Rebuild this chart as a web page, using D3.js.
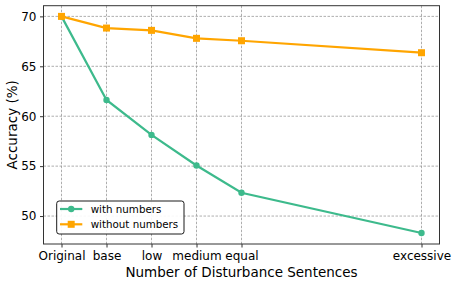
<!DOCTYPE html>
<html><head><meta charset="utf-8">
<script src="https://cdn.jsdelivr.net/npm/d3@7"></script>
<style>body{margin:0;background:#fff}svg{display:block}text{font-family:"DejaVu Sans",sans-serif;fill:#000}</style>
</head><body><svg id="c" width="457" height="284"></svg>
<script>
const categories = ["Original","base","low","medium","equal","excessive"];
const positions = [0,1,2,3,4,8];
const withNumbers = [70.0,61.63,58.13,55.06,52.33,48.3];
const withoutNumbers = [70.0,68.83,68.6,67.8,67.56,66.36];
const yTicks = [50,55,60,65,70];
const seriesNames = ["with numbers","without numbers"];
const colors = ["#3dba8c","#ffa500"];

const svg = d3.select("#c");
const L=43.5, R=439.5, T=5.7, B=244;
const x = d3.scaleLinear().domain([-0.4,8.4]).range([L,R]);
const y = d3.scaleLinear().domain([47.2,71.07]).range([B,T]);

const grid = svg.append("g").attr("stroke","#999").attr("stroke-width",0.8).attr("stroke-dasharray","2.5,1.5");
positions.forEach(p=>grid.append("line").attr("x1",x(p)).attr("x2",x(p)).attr("y1",T).attr("y2",B));
yTicks.forEach(v=>grid.append("line").attr("x1",L).attr("x2",R).attr("y1",y(v)).attr("y2",y(v)));

const xAxis = d3.axisBottom(x).tickValues(positions).tickFormat((d,i)=>categories[i]).tickSize(3.5).tickPadding(3.5);
const gx = svg.append("g").attr("transform",`translate(0,${B})`).call(xAxis);
const yAxis = d3.axisLeft(y).tickValues(yTicks).tickSize(3.5).tickPadding(3.5);
const gy = svg.append("g").attr("transform",`translate(${L},0)`).call(yAxis);
[gx,gy].forEach(g=>{g.select(".domain").remove();g.selectAll("text").style("font-size","12px").style("font-family","DejaVu Sans");g.selectAll("line").attr("stroke","#333");});

svg.append("rect").attr("x",L).attr("y",T).attr("width",R-L).attr("height",B-T).attr("fill","none").attr("stroke","#333").attr("stroke-width",1);

const series=[withNumbers,withoutNumbers];
const line=d3.line().x((d,i)=>x(positions[i])).y(d=>y(d));
series.forEach((s,k)=>{
  svg.append("path").datum(s).attr("d",line).attr("fill","none").attr("stroke",colors[k]).attr("stroke-width",2.2);
  if(k===0){
    svg.selectAll(null).data(s).enter().append("circle").attr("cx",(d,i)=>x(positions[i])).attr("cy",d=>y(d)).attr("r",3.2).attr("fill",colors[k]);
  } else {
    svg.selectAll(null).data(s).enter().append("rect").attr("x",(d,i)=>x(positions[i])-3.5).attr("y",d=>y(d)-3.5).attr("width",7).attr("height",7).attr("fill",colors[k]);
  }
});

// legend
const lg=svg.append("g");
lg.append("rect").attr("x",56.7).attr("y",201).attr("width",127.3).attr("height",33).attr("rx",2.5).attr("fill","#fff").attr("fill-opacity",0.9).attr("stroke","#000").attr("stroke-width",0.9);
seriesNames.forEach((n,k)=>{
  const yy=209+k*15.3;
  lg.append("line").attr("x1",60).attr("x2",82.3).attr("y1",yy).attr("y2",yy).attr("stroke",colors[k]).attr("stroke-width",2.2);
  if(k===0) lg.append("circle").attr("cx",71.2).attr("cy",yy).attr("r",3.2).attr("fill",colors[k]);
  else lg.append("rect").attr("x",71.2-3.5).attr("y",yy-3.5).attr("width",7).attr("height",7).attr("fill",colors[k]);
  lg.append("text").attr("x",90.7).attr("y",yy).attr("dy","0.36em").style("font-size","10.3px").text(n);
});

svg.append("text").attr("x",(L+R)/2).attr("y",276.5).attr("text-anchor","middle").style("font-size","13.5px").text("Number of Disturbance Sentences");
svg.append("text").attr("transform",`translate(17,${(T+B)/2}) rotate(-90)`).attr("text-anchor","middle").style("font-size","13.5px").text("Accuracy (%)");
</script></body></html>
